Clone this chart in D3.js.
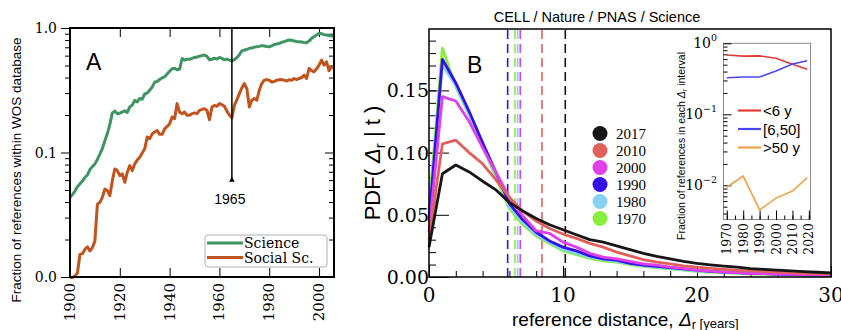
<!DOCTYPE html>
<html>
<head>
<meta charset="utf-8">
<script src="https://cdn.jsdelivr.net/npm/d3@7/dist/d3.min.js"></script>
<style>
  body { margin: 0; background: #fff; }
  .axis path { display: none; }
  .axis line { stroke: #000; stroke-width: 1; }
</style>
</head>
<body>
<svg id="chart" width="841" height="330"></svg>
<script>
// ---------- Panel A data ----------
const yearsA = d3.range(1900, 2007);
const science = [0.0436, 0.046, 0.049, 0.053, 0.056, 0.059, 0.063, 0.066, 0.073, 0.077,
  0.081, 0.088, 0.097, 0.108, 0.124, 0.142, 0.168, 0.208, 0.215, 0.205,
  0.207, 0.212, 0.216, 0.210, 0.232, 0.240, 0.262, 0.255, 0.272, 0.268,
  0.295, 0.300, 0.316, 0.335, 0.368, 0.372, 0.386, 0.398, 0.405, 0.428,
  0.450, 0.470, 0.474, 0.462, 0.468, 0.568, 0.552, 0.562, 0.560, 0.571,
  0.580, 0.585, 0.594, 0.600, 0.606, 0.592, 0.556, 0.560, 0.572, 0.563,
  0.580, 0.570, 0.555, 0.562, 0.552, 0.545, 0.556, 0.578, 0.610, 0.655,
  0.665, 0.672, 0.688, 0.690, 0.702, 0.708, 0.712, 0.722, 0.716, 0.710,
  0.706, 0.720, 0.735, 0.745, 0.752, 0.768, 0.778, 0.790, 0.800, 0.798,
  0.785, 0.780, 0.776, 0.772, 0.765, 0.762, 0.788, 0.826, 0.850, 0.880,
  0.906, 0.900, 0.885, 0.878, 0.870, 0.862, 0.858];
const social = [0.0099, 0.0099, 0.0102, 0.0108, 0.0152, 0.0154, 0.0167, 0.0175, 0.0162, 0.0172,
  0.0195, 0.0385, 0.0398, 0.0436, 0.0509, 0.0494, 0.0450, 0.0594, 0.0738, 0.0716,
  0.0653, 0.0673, 0.0576, 0.0694, 0.0785, 0.0716, 0.0810, 0.0870, 0.0917, 0.0990,
  0.107, 0.133, 0.129, 0.141, 0.146, 0.150, 0.140, 0.140, 0.155, 0.162,
  0.170, 0.193, 0.187, 0.247, 0.211, 0.205, 0.211, 0.199, 0.199, 0.205,
  0.208, 0.205, 0.218, 0.222, 0.225, 0.218, 0.183, 0.232, 0.239, 0.235,
  0.247, 0.242, 0.235, 0.215, 0.200, 0.190, 0.239, 0.265, 0.297, 0.330,
  0.358, 0.326, 0.232, 0.263, 0.271, 0.263, 0.316, 0.358, 0.381, 0.385,
  0.380, 0.369, 0.372, 0.381, 0.384, 0.385, 0.381, 0.375, 0.384, 0.381,
  0.393, 0.385, 0.393, 0.400, 0.418, 0.393, 0.473, 0.455, 0.445, 0.470,
  0.503, 0.552, 0.503, 0.535, 0.453, 0.488, 0.478];
const seriesA = ["Science", "Social Sc."];
const colorsA = ["#3f9463", "#c1531d"];
const markYear = 1965;
const yTicksA = [0.01, 0.1, 1];
const yTickLabelsA = ["0.0", "0.1", "1.0"];
const xTicksA = [1900, 1920, 1940, 1960, 1980, 2000];

// ---------- Panel B data ----------
const lagYears = d3.range(0, 31);
const cohorts = ["2017", "2010", "2000", "1990", "1980", "1970"];
const cohortColors = ["#161616", "#e0605c", "#e040ea", "#3410e6", "#86d2f4", "#86ee3c"];
const pdf2017 = [0.024, 0.083, 0.090, 0.0845, 0.077, 0.070, 0.060, 0.053, 0.047, 0.042,
  0.038, 0.034, 0.030, 0.028, 0.025, 0.022, 0.019, 0.0165, 0.0145, 0.0125,
  0.011, 0.0098, 0.0088, 0.008, 0.0068, 0.0062, 0.0055, 0.005, 0.0043, 0.0038, 0.0033];
const pdf2010 = [0.030, 0.107, 0.110, 0.100, 0.091, 0.078, 0.064, 0.053, 0.045, 0.039,
  0.0345, 0.031, 0.027, 0.024, 0.020, 0.017, 0.014, 0.012, 0.0105, 0.009,
  0.008, 0.007, 0.0062, 0.0055, 0.005, 0.0045, 0.004, 0.0035, 0.003, 0.0028, 0.0025];
const pdf2000 = [0.036, 0.145, 0.1415, 0.125, 0.104, 0.084, 0.064, 0.049, 0.037, 0.035,
  0.028, 0.024, 0.019, 0.016, 0.0145, 0.0125, 0.0105, 0.0095, 0.008, 0.007,
  0.0055, 0.0048, 0.004, 0.0036, 0.003, 0.0027, 0.0024, 0.0021, 0.0019, 0.0017, 0.0015];
const pdf1990 = [0.045, 0.175, 0.156, 0.133, 0.108, 0.084, 0.059, 0.046, 0.036, 0.029,
  0.024, 0.021, 0.017, 0.0145, 0.0135, 0.011, 0.0095, 0.0085, 0.0075, 0.0065,
  0.0055, 0.0045, 0.004, 0.0035, 0.003, 0.0027, 0.0023, 0.002, 0.0018, 0.0016, 0.0015];
const pdf1980 = [0.050, 0.170, 0.154, 0.131, 0.106, 0.082, 0.057, 0.044, 0.034, 0.028,
  0.022, 0.019, 0.016, 0.014, 0.0125, 0.0105, 0.009, 0.008, 0.007, 0.006,
  0.005, 0.0043, 0.0038, 0.0033, 0.0028, 0.0025, 0.0022, 0.0019, 0.0017, 0.0015, 0.0013];
const pdf1970 = [0.055, 0.184, 0.153, 0.130, 0.105, 0.080, 0.055, 0.042, 0.033, 0.027,
  0.021, 0.018, 0.015, 0.013, 0.012, 0.010, 0.0085, 0.0075, 0.0065, 0.0055,
  0.0045, 0.004, 0.0035, 0.003, 0.0026, 0.0023, 0.002, 0.0018, 0.0016, 0.0014, 0.0012];
const pdfs = [pdf2017, pdf2010, pdf2000, pdf1990, pdf1980, pdf1970];
const meanLag = [10.17, 8.43, 6.81, 5.87, 6.62, 6.42];
const yTicksB = [0, 0.05, 0.10, 0.15];
const xTicksB = [0, 10, 20, 30];

// ---------- Inset data ----------
const insetYears = [1970, 1980, 1990, 2000, 2010, 2019];
const insetSeries = ["<6 y", "[6,50]", ">50 y"];
const insetColors = ["#e33a36", "#4a48f6", "#f0a24a"];
const fracShort = [0.684, 0.66, 0.665, 0.615, 0.506, 0.43];
const fracMid = [0.328, 0.335, 0.335, 0.407, 0.51, 0.569];
const fracLong = [0.0094, 0.0135, 0.0045, 0.0066, 0.0083, 0.0128];
const insetX = [1970, 1980, 1990, 2000, 2010, 2020];

const svg = d3.select("#chart");
const SANS = "'Liberation Sans', Arial, sans-serif";
const SERIF = "'DejaVu Serif', serif";
const TIMES = "'Liberation Serif', serif";

// ================= Panel A =================
const xA = d3.scaleLinear().domain([1900, 2006]).range([70, 334]);
const yA = d3.scaleLog().domain([0.01, 1]).range([277, 28]);
const gA = svg.append("g");

const minorA = yA.ticks().filter(v => yTicksA.indexOf(v) < 0);
[["left", 70, d3.axisLeft, -1], ["right", 334, d3.axisRight, 1]].forEach(([side, x0, ax, s]) => {
  gA.append("g").attr("class", "axis").attr("transform", `translate(${x0},0)`)
    .call(ax(yA).tickValues(minorA).tickFormat("").tickSize(5 * s * -1).tickSizeOuter(0));
  gA.append("g").attr("class", "axis").attr("transform", `translate(${x0},0)`)
    .call(ax(yA).tickValues(yTicksA).tickFormat("").tickSize(9 * s * -1).tickSizeOuter(0));
});
gA.append("g").attr("class", "axis").attr("transform", "translate(0,277)")
  .call(d3.axisBottom(xA).tickValues(xTicksA).tickFormat("").tickSize(-9).tickSizeOuter(0));
gA.append("g").attr("class", "axis").attr("transform", "translate(0,28)")
  .call(d3.axisTop(xA).tickValues(xTicksA).tickFormat("").tickSize(-9).tickSizeOuter(0));

gA.selectAll("text.ylab").data(yTicksA).join("text")
  .attr("x", 57).attr("y", d => yA(d) + 5).attr("text-anchor", "end")
  .attr("font-family", SERIF).attr("font-size", 14).text((d, i) => yTickLabelsA[i]);
gA.selectAll("text.xlab").data(xTicksA).join("text")
  .attr("transform", d => `translate(${xA(d) + 5},283) rotate(-90)`)
  .attr("text-anchor", "end").attr("font-family", SERIF).attr("font-size", 15).text(d => d);

gA.append("text").attr("transform", "translate(21,170) rotate(-90)")
  .attr("text-anchor", "middle").attr("font-family", SANS).attr("font-size", 13.5)
  .text("Fraction of references within WOS database");

const lineA = d3.line().x((d, i) => xA(yearsA[i])).y(d => yA(d));
[science, social].forEach((s, i) => {
  gA.append("path").datum(s).attr("d", lineA).attr("fill", "none")
    .attr("stroke", colorsA[i]).attr("stroke-width", 3).attr("stroke-linejoin", "round");
});

// 1965 marker
gA.append("line").attr("x1", xA(markYear)).attr("x2", xA(markYear))
  .attr("y1", 28).attr("y2", 181).attr("stroke", "#000").attr("stroke-width", 1.5);
gA.append("path").attr("d", d3.symbol(d3.symbolTriangle, 14)())
  .attr("transform", `translate(${xA(markYear)},180)`);
gA.append("text").attr("x", xA(markYear) - 2).attr("y", 204).attr("text-anchor", "middle")
  .attr("font-family", SANS).attr("font-size", 14).text(markYear);

gA.append("text").attr("x", 86).attr("y", 70).attr("font-family", SANS)
  .attr("font-size", 23).text("A");

// legend
const legA = gA.append("g");
legA.append("rect").attr("x", 205).attr("y", 235).attr("width", 122).attr("height", 32)
  .attr("rx", 3).attr("fill", "#fff").attr("stroke", "#b0b0b0");
seriesA.forEach((name, i) => {
  const y = 243 + i * 14.5;
  legA.append("line").attr("x1", 207).attr("x2", 243).attr("y1", y).attr("y2", y)
    .attr("stroke", colorsA[i]).attr("stroke-width", 3);
  legA.append("text").attr("x", 244).attr("y", y + 5).attr("font-family", SERIF)
    .attr("font-size", 14).text(name);
});

gA.append("rect").attr("x", 70).attr("y", 28).attr("width", 264).attr("height", 249)
  .attr("fill", "none").attr("stroke", "#000").attr("stroke-width", 2);

// ================= Panel B =================
const xB = d3.scaleLinear().domain([0, 30]).range([429, 831]);
const yB = d3.scaleLinear().domain([0, 0.2]).range([277, 28.2]);
const gB = svg.append("g");

gB.append("g").attr("class", "axis").attr("transform", "translate(429,0)")
  .call(d3.axisLeft(yB).tickValues(d3.range(0, 0.2, 0.01)).tickFormat("").tickSize(-7).tickSizeOuter(0));
gB.append("g").attr("class", "axis").attr("transform", "translate(429,0)")
  .call(d3.axisLeft(yB).tickValues(yTicksB).tickFormat("").tickSize(-20).tickSizeOuter(0));
gB.append("g").attr("class", "axis").attr("transform", "translate(0,277)")
  .call(d3.axisBottom(xB).tickValues(d3.range(0, 31, 2)).tickFormat("").tickSize(-6).tickSizeOuter(0));
gB.append("g").attr("class", "axis").attr("transform", "translate(0,277)")
  .call(d3.axisBottom(xB).tickValues(xTicksB).tickFormat("").tickSize(-11).tickSizeOuter(0));

gB.selectAll("text.yb").data(yTicksB).join("text")
  .attr("x", 429).attr("y", d => yB(d) + 7).attr("text-anchor", "end")
  .attr("font-family", SERIF).attr("font-size", 19).text(d => d3.format(".2f")(d));
gB.selectAll("text.xb").data(xTicksB).join("text")
  .attr("x", d => xB(d)).attr("y", 302).attr("text-anchor", "middle")
  .attr("font-family", SERIF).attr("font-size", 20).text(d => d);

// dashed mean lines
meanLag.forEach((m, i) => {
  gB.append("line").attr("x1", xB(m)).attr("x2", xB(m)).attr("y1", 30).attr("y2", 277)
    .attr("stroke", cohortColors[i]).attr("stroke-width", 1.6).attr("stroke-dasharray", "9,5");
});

const lineB = d3.line().x((d, i) => xB(lagYears[i])).y(d => yB(d));
for (let i = pdfs.length - 1; i >= 0; i--) {
  gB.append("path").datum(pdfs[i]).attr("d", lineB).attr("fill", "none")
    .attr("stroke", cohortColors[i]).attr("stroke-width", 2.8).attr("stroke-linejoin", "round");
}

gB.append("rect").attr("x", 429).attr("y", 29).attr("width", 402).attr("height", 248)
  .attr("fill", "none").attr("stroke", "#000").attr("stroke-width", 1.5);

gB.append("text").attr("x", 467).attr("y", 73).attr("font-family", SANS)
  .attr("font-size", 23).text("B");

gB.append("text").attr("x", 597).attr("y", 22).attr("text-anchor", "middle")
  .attr("font-family", SANS).attr("font-size", 14.5).text("CELL / Nature / PNAS / Science");

// y title
const yt = gB.append("text").attr("transform", "translate(380,163) rotate(-90)")
  .attr("text-anchor", "middle").attr("font-family", SANS).attr("font-size", 22);
yt.append("tspan").text("PDF( ");
yt.append("tspan").attr("font-style", "italic").text("Δ");
yt.append("tspan").attr("font-size", 15).attr("dy", 5).text("r");
yt.append("tspan").attr("dy", -5).text(" | t )");

// x title
const xt = gB.append("text").attr("x", 512).attr("y", 326)
  .attr("font-family", SANS).attr("font-size", 19);
xt.append("tspan").text("reference distance, ");
xt.append("tspan").attr("font-style", "italic").text("Δ");
xt.append("tspan").attr("font-size", 13).attr("dy", 3).text("r");
xt.append("tspan").attr("font-size", 13).attr("dy", -1).text(" [years]");

// legend
cohorts.forEach((c, i) => {
  const y = 133.5 + i * 17;
  gB.append("circle").attr("cx", 600).attr("cy", y).attr("r", 7.5).attr("fill", cohortColors[i]);
  gB.append("text").attr("x", 616).attr("y", y + 5).attr("font-family", TIMES)
    .attr("font-size", 15).text(c);
});

// ================= Inset =================
const xI = d3.scaleLinear().domain([1968, 2021]).range([723.5, 810.5]);
const yI = d3.scaleLog().domain([0.0033, 1]).range([219.5, 43.3]);
const gI = svg.append("g");
gI.append("rect").attr("x", 723.5).attr("y", 43.3).attr("width", 87).attr("height", 176.2)
  .attr("fill", "#fff").attr("stroke", "#8a8a8a").attr("stroke-width", 1);

const minorI = yI.ticks().filter(v => [0.01, 0.1, 1].indexOf(v) < 0);
gI.append("g").attr("class", "axis").attr("transform", "translate(723.5,0)")
  .call(d3.axisLeft(yI).tickValues(minorI).tickFormat("").tickSize(-4).tickSizeOuter(0));
gI.append("g").attr("class", "axis").attr("transform", "translate(723.5,0)")
  .call(d3.axisLeft(yI).tickValues([0.01, 0.1, 1]).tickFormat("").tickSize(-8).tickSizeOuter(0));
gI.append("g").attr("class", "axis").attr("transform", "translate(0,219.5)")
  .call(d3.axisBottom(xI).tickValues(d3.range(1970, 2021, 5)).tickFormat("").tickSize(-4).tickSizeOuter(0));
gI.append("g").attr("class", "axis").attr("transform", "translate(0,219.5)")
  .call(d3.axisBottom(xI).tickValues(insetX).tickFormat("").tickSize(-9).tickSizeOuter(0));
gI.selectAll(".axis line").attr("stroke", "#666");

[[1, "0"], [0.1, "−1"], [0.01, "−2"]].forEach(([v, e]) => {
  const t = gI.append("text").attr("x", 717).attr("y", yI(v) + 5).attr("text-anchor", "end")
    .attr("font-family", SERIF).attr("font-size", 14);
  t.append("tspan").text("10");
  t.append("tspan").attr("font-size", 9.5).attr("dy", -7).text(e);
});
gI.selectAll("text.xi").data(insetX).join("text")
  .attr("transform", d => `translate(${xI(d) + 4.5},223) rotate(-90)`)
  .attr("text-anchor", "end").attr("font-family", SERIF).attr("font-size", 12.5).text(d => d);

const it = gI.append("text").attr("transform", "translate(685,146) rotate(-90)")
  .attr("text-anchor", "middle").attr("font-family", SANS).attr("font-size", 10.5);
it.append("tspan").text("Fraction of references in each ");
it.append("tspan").attr("font-style", "italic").text("Δ");
it.append("tspan").attr("font-size", 7).attr("dy", 2).text("r");
it.append("tspan").attr("dy", -2).text(" interval");

const lineI = d3.line().x((d, i) => xI(insetYears[i])).y(d => yI(d));
[fracShort, fracMid, fracLong].forEach((s, i) => {
  gI.append("path").datum(s).attr("d", lineI).attr("fill", "none")
    .attr("stroke", insetColors[i]).attr("stroke-width", 1.6);
});
insetSeries.forEach((name, i) => {
  const y = 110.5 + i * 18.5;
  gI.append("line").attr("x1", 738).attr("x2", 761).attr("y1", y).attr("y2", y)
    .attr("stroke", insetColors[i]).attr("stroke-width", 2.2);
  gI.append("text").attr("x", 763).attr("y", y + 5.5).attr("font-family", SANS)
    .attr("font-size", 15).text(name);
});
</script>
</body>
</html>
